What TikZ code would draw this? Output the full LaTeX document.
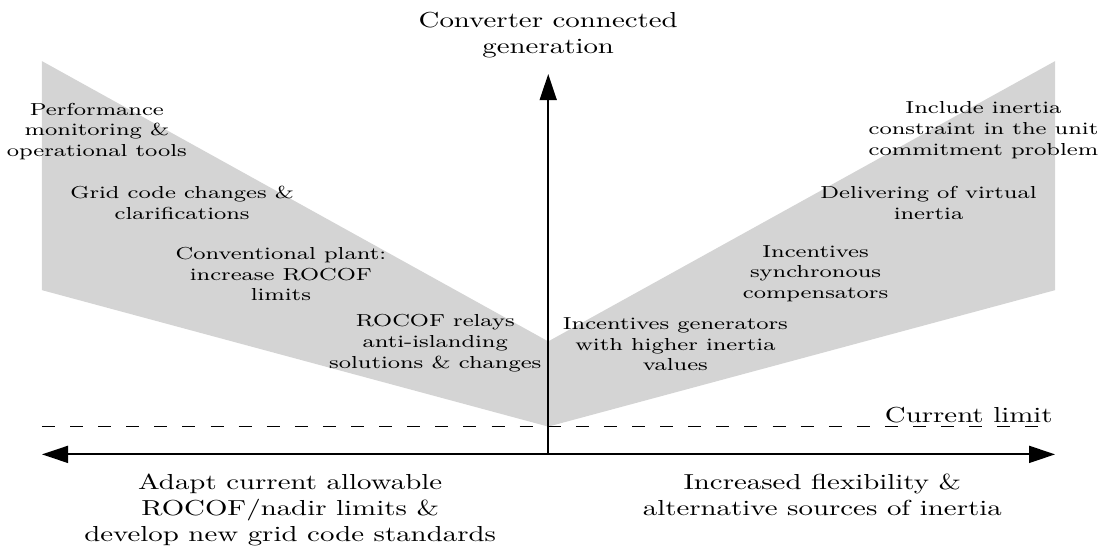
\documentclass[tikz,border=0pt]{standalone}
\usetikzlibrary{arrows.meta}
\definecolor{wedgegray}{gray}{0.83}

\begin{document}
\begin{tikzpicture}[
    >={Triangle[length=12pt, width=7.8pt]},
    axis/.style={line width=0.9pt},
    limit/.style={line width=0.75pt, dash pattern=on 6pt off 6.95pt},
    action/.style={align=center, font=\footnotesize, xscale=1.33},
    heading/.style={align=center, font=\normalsize, xscale=1.33}
]
    \useasboundingbox (-8.88,-1.62) rectangle (8.97,7.36);

    % Shaded region
    \fill[wedgegray] (-8.2,6.37) -- (0,1.83) -- (8.21,6.37) -- (8.21,2.66) -- (0,0.45) -- (-8.2,2.66) -- cycle;

    % Axes and limit
    \coordinate (origin) at (0,0);
    \coordinate (west) at (-8.2,0);
    \coordinate (east) at (8.21,0);
    \coordinate (top) at (0,6.16);
    \coordinate (limwest) at (-8.2,0.45);
    \coordinate (limeast) at (8.05,0.45);
    \draw[limit] (limwest) -- (limeast);
    \draw[axis, ->] (origin) -- (top);
    \draw[axis, <->] (west) -- (east);

    % Labels
    \node[heading] (ccg) at (0,6.79) {Converter connected\\generation};
    \node[heading, anchor=base east, inner sep=0pt] (curlim) at (8.18,0.52) {Current limit};
    \node[heading, anchor=north] (adapt) at (-4.18,-0.19) {Adapt current allowable\\ROCOF/nadir limits \&\\develop new grid code standards};
    \node[heading, anchor=north] (flex) at (4.44,-0.19) {Increased flexibility \&\\alternative sources of inertia};

    % Left measures
    \node[action] (perf) at (-7.31,5.23) {Performance\\monitoring \&\\operational tools};
    \node[action] (grid) at (-5.93,4.07) {Grid code changes \&\\clarifications};
    \node[action] (conv) at (-4.33,2.92) {Conventional plant:\\increase ROCOF\\limits};
    \node[action] (relay) at (-1.83,1.80) {ROCOF relays\\anti-islanding\\solutions \& changes};

    % Right measures
    \node[action] (igen) at (2.06,1.78) {Incentives generators\\with higher inertia\\values};
    \node[action] (isync) at (4.33,2.93) {Incentives\\synchronous\\compensators};
    \node[action] (virt) at (6.16,4.07) {Delivering of virtual\\inertia};
    \node[action] (uc) at (7.05,5.25) {Include inertia\\constraint in the unit\\commitment problem};
\end{tikzpicture}
\end{document}
